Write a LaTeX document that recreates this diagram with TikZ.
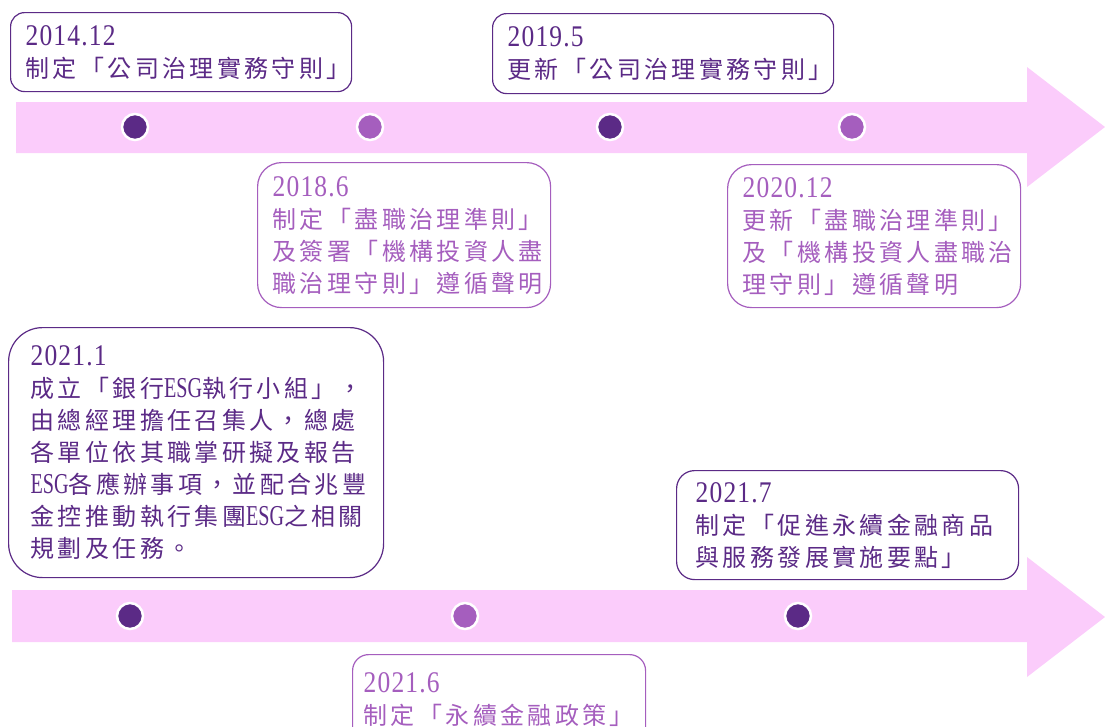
\documentclass[tikz,border=0pt]{standalone}
\usepackage{fontspec}
\newfontfamily\cjkfont[LetterSpace=14]{Noto Sans CJK TC}
\newfontfamily\datefont[FakeStretch=0.85,Scale=1.25,LetterSpace=4]{Liberation Serif}
\newfontfamily\esgfont[FakeStretch=0.7,Scale=1.2]{Liberation Serif}
\definecolor{darkpurple}{HTML}{5B2A86}
\definecolor{lightpurple}{HTML}{A55EBE}
\definecolor{bandpink}{HTML}{FBCCFB}
\tikzstyle{event} = [draw, fill=white, line width=1.2pt, anchor=north west, align=left, inner xsep=15pt, inner ysep=0pt, font=\cjkfont\fontsize{24}{32}\selectfont]
\tikzstyle{darkevent} = [event, draw=darkpurple, text=darkpurple]
\tikzstyle{lightevent} = [event, draw=lightpurple, text=lightpurple]
\tikzstyle{milestone} = [circle, draw=white, line width=2.5pt, minimum size=26pt, inner sep=0pt]

\begin{document}
\begin{tikzpicture}[x=1pt, y=-1pt]
                \useasboundingbox (0,0) rectangle (1105,726);

                % timeline bands
                \fill [bandpink] (16,102) -- (1027,102) -- (1027,67) -- (1105,127) -- (1027,187) -- (1027,153) -- (16,153) -- cycle;
                \fill [bandpink] (12,590) -- (1027,590) -- (1027,557) -- (1105,617) -- (1027,677) -- (1027,642) -- (12,642) -- cycle;

                % events
                \node (e201412) [darkevent, rounded corners=14pt, text width=311pt, minimum height=79pt] at (10,12)
                    {{\datefont 2014.12}\\制定「公司治理實務守則」};
                \node (e20195) [darkevent, rounded corners=14pt, text width=311pt, minimum height=80pt] at (492,13)
                    {{\datefont 2019.5}\\更新「公司治理實務守則」};
                \node (e20186) [lightevent, rounded corners=24pt, text width=263pt, minimum height=145pt] at (257,162)
                    {{\datefont 2018.6}\\制定「盡職治理準則」\\及簽署「機構投資人盡\\職治理守則」遵循聲明};
                \node (e202012) [lightevent, rounded corners=24pt, text width=263pt, minimum height=143pt] at (727,164)
                    {{\datefont 2020.12}\\更新「盡職治理準則」\\及「機構投資人盡職治\\理守則」遵循聲明};
                \node (e20211) [darkevent, rounded corners=34pt, inner xsep=22pt, text width=331pt, minimum height=250pt] at (8,327)
                    {{\datefont 2021.1}\\成立「銀行{\esgfont ESG}執行小組」，\\由總經理擔任召集人，總處\\各單位依其職掌研擬及報告\\{\esgfont ESG}各應辦事項，並配合兆豐\\金控推動執行集團{\esgfont ESG}之相關\\規劃及任務。};
                \node (e20217) [darkevent, rounded corners=18pt, inner xsep=19pt, text width=304pt, minimum height=109pt] at (676,470)
                    {{\datefont 2021.7}\\制定「促進永續金融商品\\與服務發展實施要點」};
                \node (e20216) [lightevent, rounded corners=16pt, inner xsep=11pt, text width=271pt, minimum height=90pt] at (352,654)
                    {{\datefont 2021.6}\\制定「永續金融政策」};

                % milestones
                \node (m1) [milestone, fill=darkpurple] at (135,127) {};
                \node (m2) [milestone, fill=lightpurple] at (370,127) {};
                \node (m3) [milestone, fill=darkpurple] at (610,127) {};
                \node (m4) [milestone, fill=lightpurple] at (852,127) {};
                \node (m5) [milestone, fill=darkpurple] at (130,616) {};
                \node (m6) [milestone, fill=lightpurple] at (465,616) {};
                \node (m7) [milestone, fill=darkpurple] at (798,616) {};
            \end{tikzpicture}
\end{document}
